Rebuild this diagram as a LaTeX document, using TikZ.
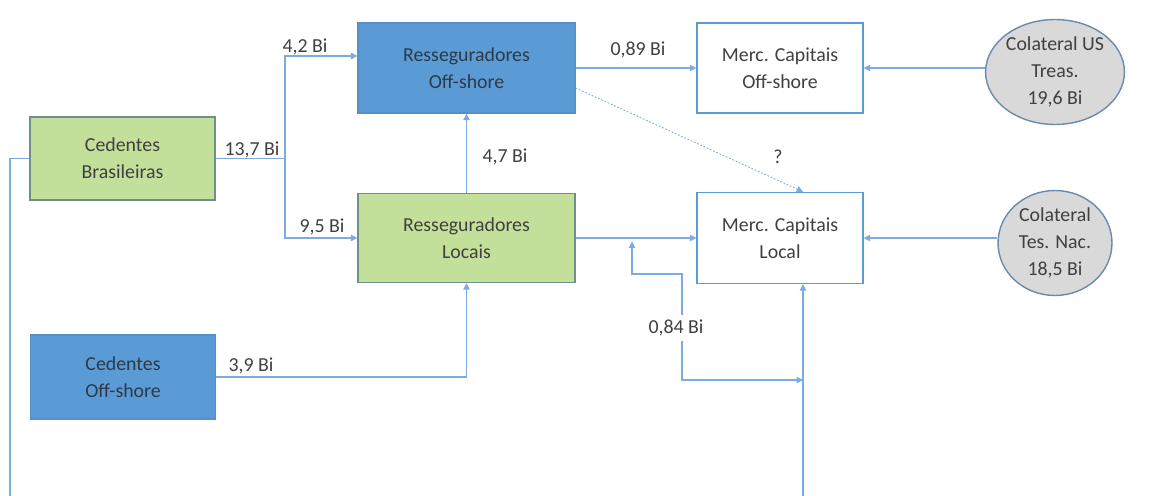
\documentclass[tikz,border=0pt]{standalone}
\usepackage{fontspec}
\setmainfont{Carlito}
\usetikzlibrary{arrows.meta,shapes.geometric}
\definecolor{txt}{HTML}{404040}
\definecolor{darktxt}{HTML}{2E3A46}
\definecolor{link}{HTML}{7DAAE0}
\definecolor{greenfill}{HTML}{C3E09A}
\definecolor{greenline}{HTML}{6F8F8A}
\definecolor{bluefill}{HTML}{5B9BD5}
\definecolor{blueline}{HTML}{5590C8}
\definecolor{greyfill}{HTML}{D9D9D9}
\definecolor{greyline}{HTML}{6A8AAE}
\tikzset{
  every node/.style={text=txt, font=\fontsize{11.3}{15.4}\selectfont, align=center},
  box/.style={rectangle, draw, line width=0.8pt, inner sep=0pt},
  greenbox/.style={box, fill=greenfill, draw=greenline},
  bluebox/.style={box, fill=bluefill, draw=blueline, text=darktxt},
  whitebox/.style={box, fill=white, draw=bluefill},
  collat/.style={ellipse, draw=greyline, fill=greyfill, line width=0.8pt,
    minimum width=2.28cm, minimum height=2.1cm, inner sep=0pt},
  flow/.style={draw=link, line width=0.6pt},
  tip/.style={-{Triangle[length=3.6pt,width=3.6pt]}},
  bothtips/.style={{Triangle[length=3.6pt,width=3.6pt]}-{Triangle[length=3.6pt,width=3.6pt]}},
  lbl/.style={inner sep=1pt}
}
\begin{document}
\begin{tikzpicture}[x=0.02cm,y=-0.02cm]
\useasboundingbox (0,0) rectangle (1156,496);
\clip (0,0) rectangle (1156,496);

% institutions
\node[greenbox, minimum width=3.7cm, minimum height=1.66cm] (cb) at (122.5,158.5) {Cedentes\\Brasileiras};
\node[bluebox, minimum width=3.7cm, minimum height=1.68cm] (co) at (123,377) {Cedentes\\Off-shore};
\node[bluebox, minimum width=4.34cm, minimum height=1.8cm] (ro) at (466.5,68) {Resseguradores\\Off-shore};
\node[greenbox, minimum width=4.34cm, minimum height=1.78cm] (rl) at (466.5,238) {Resseguradores\\Locais};
\node[whitebox, minimum width=3.32cm, minimum height=1.8cm] (mo) at (780,68) {Merc. Capitais\\Off-shore};
\node[whitebox, minimum width=3.32cm, minimum height=1.82cm] (ml) at (780,238) {Merc. Capitais\\Local};
\node[collat] (us) at (1055,72) {Colateral US\\Treas.\\19,6 Bi};
\node[collat] (tn) at (1055,243) {Colateral\\Tes. Nac.\\18,5 Bi};

% junction points
\coordinate (split) at (285,158.5);
\coordinate (j1) at (632,238);
\coordinate (j2) at (803,380);

% premium flows
\draw[flow] (cb.east) -- (split);
\draw[flow,tip] (split) |- ([yshift=0.24cm]ro.west);
\draw[flow,tip] (split) |- (rl.west);
\draw[flow,tip] (rl.north) -- (ro.south);
\draw[flow,tip] (co.east) -| (rl.south);
\draw[flow,tip] (ro.east |- mo.west) -- (mo.west);
\draw[flow,tip] (rl.east) -- (ml.west);
\draw[flow,tip] (us.west |- mo.east) -- (mo.east);
\draw[flow,tip] (tn.west |- ml.east) -- (ml.east);
\draw[flow,tip,dash pattern=on 1pt off 1pt,line width=0.5pt] ([yshift=-0.4cm]ro.east) -- ([xshift=0.46cm]ml.north);
\draw[flow,tip] (cb.west) -- (10,158.5) -- (10,520) -| ([xshift=0.46cm]ml.south);
\draw[flow,bothtips,shorten <=2pt] (j1) -- (632,274) -| (682,380) -- (j2);

% amounts
\node[lbl] (l137) at (252,150) {13,7 Bi};
\node[lbl] (l42) at (305,47) {4,2 Bi};
\node[lbl] (l95) at (322,227) {9,5 Bi};
\node[lbl] (l47) at (505,157) {4,7 Bi};
\node[lbl] (l39) at (251,366) {3,9 Bi};
\node[lbl] (l089) at (638,50) {0,89 Bi};
\node[lbl] (lq) at (778,157) {?};
\node[lbl, fill=white, inner sep=3pt] (l084) at (676,328) {0,84 Bi};
\end{tikzpicture}
\end{document}
